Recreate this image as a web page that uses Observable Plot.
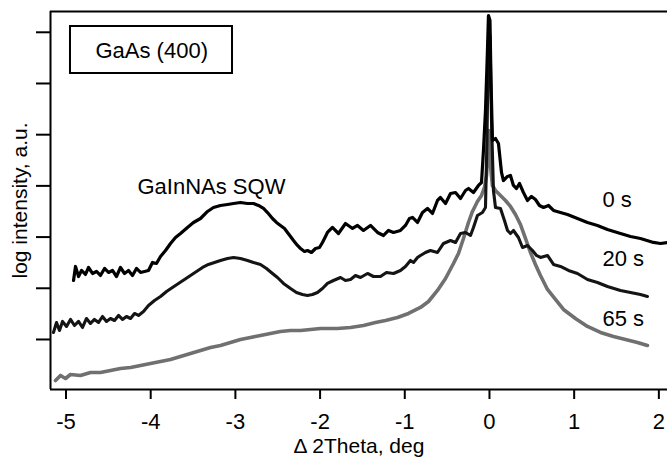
<!DOCTYPE html>
<html><head><meta charset="utf-8">
<script src="https://cdn.jsdelivr.net/npm/d3@7"></script>
<script src="https://cdn.jsdelivr.net/npm/@observablehq/plot@0.6"></script>
<style>body{margin:0;background:#fff}#chart svg{display:block}</style>
</head><body><div id="chart"></div>
<script>
// Δ2θ (deg) and log intensity (a.u., one unit per y tick)
const x0s = [-4.911,-4.888,-4.852,-4.817,-4.770,-4.734,-4.687,-4.640,-4.593,-4.545,-4.498,-4.451,-4.404,-4.357,-4.309,-4.262,-4.215,-4.168,-4.120,-4.073,-4.026,-3.979,-3.932,-3.884,-3.825,-3.766,-3.707,-3.648,-3.566,-3.495,-3.412,-3.329,-3.259,-3.176,-3.093,-3.022,-2.940,-2.857,-2.786,-2.727,-2.668,-2.621,-2.562,-2.515,-2.468,-2.420,-2.385,-2.349,-2.314,-2.267,-2.231,-2.184,-2.149,-2.102,-2.054,-2.007,-1.972,-1.936,-1.913,-1.854,-1.783,-1.700,-1.617,-1.558,-1.488,-1.405,-1.322,-1.251,-1.192,-1.133,-1.051,-0.992,-0.945,-0.909,-0.850,-0.791,-0.732,-0.673,-0.614,-0.579,-0.519,-0.460,-0.401,-0.342,-0.283,-0.248,-0.189,-0.130,-0.094,-0.071,-0.047,-0.024,-0.012,0.006,0.018,0.035,0.071,0.106,0.142,0.165,0.213,0.248,0.283,0.319,0.354,0.401,0.449,0.496,0.543,0.590,0.638,0.697,0.756,0.838,0.921,1.039,1.157,1.275,1.393,1.547,1.665,1.783,1.936,2.019,2.102];
const y0s = [1.152,1.426,1.230,1.348,1.270,1.406,1.289,1.328,1.250,1.387,1.309,1.348,1.230,1.406,1.289,1.348,1.250,1.387,1.309,1.328,1.348,1.504,1.484,1.621,1.738,1.875,1.992,2.070,2.188,2.285,2.363,2.500,2.578,2.617,2.637,2.656,2.676,2.656,2.656,2.617,2.559,2.480,2.363,2.285,2.227,2.168,2.090,2.012,1.934,1.836,1.777,1.719,1.738,1.699,1.777,1.797,1.895,2.012,2.090,2.188,2.070,2.266,2.168,2.227,2.129,2.227,2.090,2.031,2.129,2.090,2.129,2.227,2.363,2.383,2.285,2.480,2.559,2.461,2.715,2.773,2.656,2.852,2.871,2.754,2.910,2.949,2.871,3.008,3.066,3.691,4.473,5.645,6.328,6.230,5.059,3.887,3.926,3.828,3.262,3.105,3.184,3.203,3.008,2.949,3.047,2.871,2.715,2.793,2.734,2.617,2.578,2.617,2.520,2.480,2.441,2.363,2.285,2.227,2.148,2.070,2.012,1.973,1.895,1.875,1.895];

const x20s = [-5.148,-5.112,-5.077,-5.041,-4.994,-4.947,-4.900,-4.852,-4.805,-4.758,-4.711,-4.664,-4.616,-4.569,-4.522,-4.475,-4.427,-4.380,-4.333,-4.286,-4.238,-4.191,-4.144,-4.085,-4.026,-3.955,-3.884,-3.813,-3.743,-3.672,-3.601,-3.530,-3.459,-3.388,-3.318,-3.247,-3.176,-3.093,-3.022,-2.940,-2.857,-2.786,-2.704,-2.633,-2.562,-2.503,-2.432,-2.349,-2.279,-2.208,-2.149,-2.090,-2.031,-1.972,-1.913,-1.842,-1.759,-1.700,-1.641,-1.582,-1.523,-1.440,-1.370,-1.287,-1.216,-1.133,-1.051,-0.992,-0.933,-0.897,-0.850,-0.815,-0.756,-0.697,-0.614,-0.543,-0.460,-0.401,-0.342,-0.283,-0.224,-0.189,-0.142,-0.083,-0.047,-0.030,-0.012,0.006,0.024,0.047,0.071,0.130,0.177,0.213,0.248,0.283,0.342,0.390,0.449,0.508,0.555,0.602,0.685,0.756,0.838,0.933,1.039,1.157,1.275,1.393,1.547,1.665,1.783,1.865];
const y20s = [0.137,0.332,0.176,0.352,0.254,0.391,0.273,0.352,0.234,0.410,0.313,0.391,0.332,0.449,0.352,0.410,0.371,0.469,0.391,0.449,0.410,0.508,0.469,0.547,0.664,0.762,0.840,0.938,1.016,1.094,1.172,1.250,1.328,1.406,1.465,1.504,1.543,1.582,1.602,1.582,1.543,1.504,1.465,1.387,1.289,1.211,1.094,0.996,0.918,0.879,0.859,0.879,0.918,0.996,1.094,1.152,1.211,1.152,1.172,1.250,1.211,1.289,1.230,1.230,1.309,1.289,1.348,1.426,1.543,1.504,1.602,1.641,1.699,1.738,1.699,1.875,1.934,1.895,2.070,2.090,2.031,2.188,2.422,2.480,2.578,3.887,5.840,5.938,4.277,2.910,2.578,2.559,2.324,2.129,2.070,2.129,1.992,1.797,1.836,1.738,1.641,1.602,1.641,1.465,1.426,1.348,1.289,1.172,1.113,1.035,0.957,0.918,0.879,0.840];

const x65s = [-5.124,-5.065,-5.006,-4.947,-4.829,-4.711,-4.593,-4.475,-4.357,-4.238,-4.120,-4.002,-3.884,-3.766,-3.648,-3.530,-3.412,-3.294,-3.176,-3.058,-2.940,-2.822,-2.704,-2.586,-2.468,-2.349,-2.231,-2.113,-1.995,-1.795,-1.641,-1.488,-1.346,-1.228,-1.086,-0.956,-0.815,-0.720,-0.614,-0.519,-0.425,-0.366,-0.307,-0.248,-0.201,-0.142,-0.094,-0.059,-0.035,-0.018,-0.006,0.012,0.035,0.071,0.130,0.189,0.248,0.307,0.366,0.425,0.484,0.543,0.602,0.685,0.779,0.874,1.015,1.157,1.311,1.464,1.606,1.747,1.865];
const y65s = [-0.801,-0.703,-0.762,-0.684,-0.703,-0.645,-0.645,-0.605,-0.566,-0.547,-0.508,-0.469,-0.430,-0.391,-0.332,-0.273,-0.215,-0.156,-0.117,-0.059,0,0.039,0.078,0.117,0.156,0.176,0.176,0.195,0.215,0.215,0.234,0.273,0.332,0.371,0.430,0.508,0.625,0.742,0.957,1.191,1.484,1.680,1.973,2.285,2.500,2.695,2.813,2.969,3.203,3.691,4.082,3.398,3.008,2.910,2.813,2.715,2.598,2.441,2.246,1.973,1.699,1.465,1.250,0.977,0.781,0.586,0.410,0.254,0.137,0.059,0,-0.059,-0.117];

const seriesNames = ["65 s", "20 s", "0 s"];
const seriesColors = ["#707070", "#141414", "#000000"];
const seriesWidths = [3.6, 3.1, 3.2];
const xTicks = [-5, -4, -3, -2, -1, 0, 1, 2];
const yTicks = [0, 1, 2, 3, 4, 5, 6];
const xDomain = [-5.183, 2.102];
const yDomain = [-0.977, 6.406];

// annotation texts
const curveLabels = ["0 s", "20 s", "65 s"];
const curveLabelX = [1.334, 1.334, 1.334];
const curveLabelY = [2.734, 1.582, 0.410];
const peakLabel = {text: "GaInNAs SQW", x: -4.156, y: 2.988};
const boxLabel = {text: "GaAs (400)", x: -4.652, y: 5.645, x1: -4.947, x2: -3.034, y1: 5.195, y2: 6.113};
const xLabel = "\u0394 2Theta, deg";
const yLabel = "log intensity, a.u.";

const allX = [x65s, x20s, x0s], allY = [y65s, y20s, y0s];
const labelRows = curveLabels.map((t, i) => ({text: t, x: curveLabelX[i], y: curveLabelY[i]}));

const font = "Arial, 'Liberation Sans', sans-serif";
const chart = Plot.plot({
  width: 667, height: 460,
  marginLeft: 50, marginRight: 0, marginTop: 11, marginBottom: 71,
  style: {fontFamily: font, fontSize: "20px", color: "#000", background: "#fff", overflow: "visible"},
  x: {domain: xDomain},
  y: {domain: yDomain},
  marks: [
    Plot.axisX(xTicks, {tickSize: 10, tickPadding: 14, strokeWidth: 2, tickFormat: d => String(d), label: null, fontSize: 22}),
    Plot.axisY(yTicks, {tickSize: 14, strokeWidth: 2, tickFormat: () => "", label: null}),
    ...seriesNames.map((name, k) =>
      Plot.line(allX[k].map((x, i) => ({x, y: allY[k][i]})),
        {x: "x", y: "y", stroke: seriesColors[k], strokeWidth: seriesWidths[k], strokeLinejoin: "round"})),
    Plot.ruleX([xDomain[0]], {stroke: "#000", strokeWidth: 2}),
    Plot.ruleY([yDomain[0], yDomain[1]], {stroke: "#000", strokeWidth: 2}),
    Plot.rect([boxLabel], {x1: "x1", x2: "x2", y1: "y1", y2: "y2", fill: "none", stroke: "#000", strokeWidth: 2}),
    Plot.text([boxLabel], {x: "x", y: "y", text: "text", textAnchor: "start", fontSize: 22}),
    Plot.text([peakLabel], {x: "x", y: "y", text: "text", textAnchor: "start", fontSize: 22}),
    Plot.text(labelRows, {x: "x", y: "y", text: "text", textAnchor: "start", fontSize: 22}),
    Plot.text([xLabel], {frameAnchor: "bottom", textAnchor: "middle", lineAnchor: "middle", dy: 57, fontSize: 21}),
    Plot.text([yLabel], {frameAnchor: "left", textAnchor: "middle", lineAnchor: "middle", rotate: -90, dx: -30, fontSize: 21})
  ]
});
document.getElementById("chart").append(chart);
</script>
</body></html>
